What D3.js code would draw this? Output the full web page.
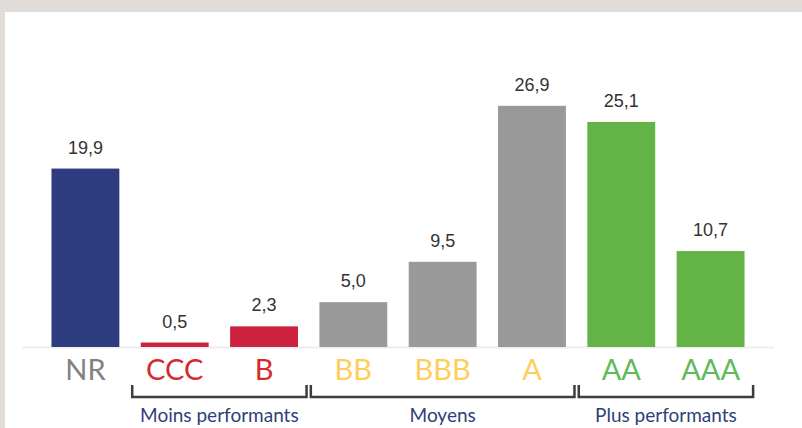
<!DOCTYPE html>
<html>
<head>
<meta charset="utf-8">
<script src="https://cdn.jsdelivr.net/npm/d3@7"></script>
<style>
  html, body { margin: 0; padding: 0; background: #e1dcd8; }
  svg { display: block; }
</style>
</head>
<body>
<svg id="chart" width="802" height="428"></svg>
<script>
// ratings and their share
const categories = ['NR', 'CCC', 'B', 'BB', 'BBB', 'A', 'AA', 'AAA'];
const values = [19.9, 0.5, 2.3, 5.0, 9.5, 26.9, 25.1, 10.7];
const barColors = ['#2e3d7f', '#cc2240', '#cc2240', '#999999', '#999999', '#999999', '#63b346', '#63b346'];
const labelColors = ['#828282', '#d62a2f', '#d62a2f', '#fdcf58', '#fdcf58', '#fdcf58', '#5fba5a', '#5fba5a'];
const groupNames = ['Moins performants', 'Moyens', 'Plus performants'];
const groupStart = ['CCC', 'BB', 'AA'];
const groupEnd = ['B', 'A', 'AAA'];

const svg = d3.select('#chart'),
    width = +svg.attr('width'),
    height = +svg.attr('height');

// white panel
svg.append('rect')
    .attr('x', 5).attr('y', 12)
    .attr('width', width - 5).attr('height', height - 12)
    .attr('fill', '#fff');

const x = d3.scaleBand()
    .domain(categories)
    .range([22, 774])
    .paddingInner(0.24)
    .paddingOuter(0.33);

const y = d3.scaleLinear()
    .domain([0, 30])
    .range([347, 78]);

// baseline
svg.append('line')
    .attr('x1', 22).attr('x2', 774)
    .attr('y1', y(0) + 0.5).attr('y2', y(0) + 0.5)
    .attr('stroke', '#eeeeee')
    .attr('stroke-width', 2);

const bars = categories.map((c, i) => ({ cat: c, value: values[i], i: i }));

svg.append('g').selectAll('rect')
    .data(bars)
    .enter().append('rect')
      .attr('x', d => x(d.cat))
      .attr('y', d => y(d.value))
      .attr('width', x.bandwidth())
      .attr('height', d => y(0) - y(d.value))
      .attr('fill', d => barColors[d.i]);

svg.append('g').selectAll('text')
    .data(bars)
    .enter().append('text')
      .attr('x', d => x(d.cat) + x.bandwidth() / 2)
      .attr('y', d => y(d.value) - 15)
      .attr('text-anchor', 'middle')
      .attr('font-family', 'Liberation Sans, Arial, sans-serif')
      .attr('font-size', 18)
      .attr('fill', '#333')
      .text(d => d3.format('.1f')(d.value).replace('.', ','));

// category labels under the axis
svg.append('g').selectAll('text')
    .data(bars)
    .enter().append('text')
      .attr('x', d => x(d.cat) + x.bandwidth() / 2)
      .attr('y', 380)
      .attr('text-anchor', 'middle')
      .attr('font-family', 'Lato, sans-serif')
      .attr('font-size', 29)
      .attr('fill', d => labelColors[d.i])
      .text(d => d.cat);

// brackets for the groups
const gap = x.step() - x.bandwidth();
const groups = groupNames.map((g, i) => ({
  name: g,
  x0: x(groupStart[i]) - gap * 0.4,
  x1: x(groupEnd[i]) + x.bandwidth() + gap * 0.4
}));

svg.append('g').selectAll('path')
    .data(groups)
    .enter().append('path')
      .attr('d', d => `M${d.x0},385V397H${d.x1}V385`)
      .attr('fill', 'none')
      .attr('stroke', '#3d3d3d')
      .attr('stroke-width', 2.5);

// group names under the brackets
svg.append('g').selectAll('text')
    .data(groups)
    .enter().append('text')
      .attr('x', d => (d.x0 + d.x1) / 2)
      .attr('y', 422)
      .attr('text-anchor', 'middle')
      .attr('font-family', 'Lato, sans-serif')
      .attr('font-size', 19)
      .attr('fill', '#2e3f78')
      .text(d => d.name);
</script>
</body>
</html>
